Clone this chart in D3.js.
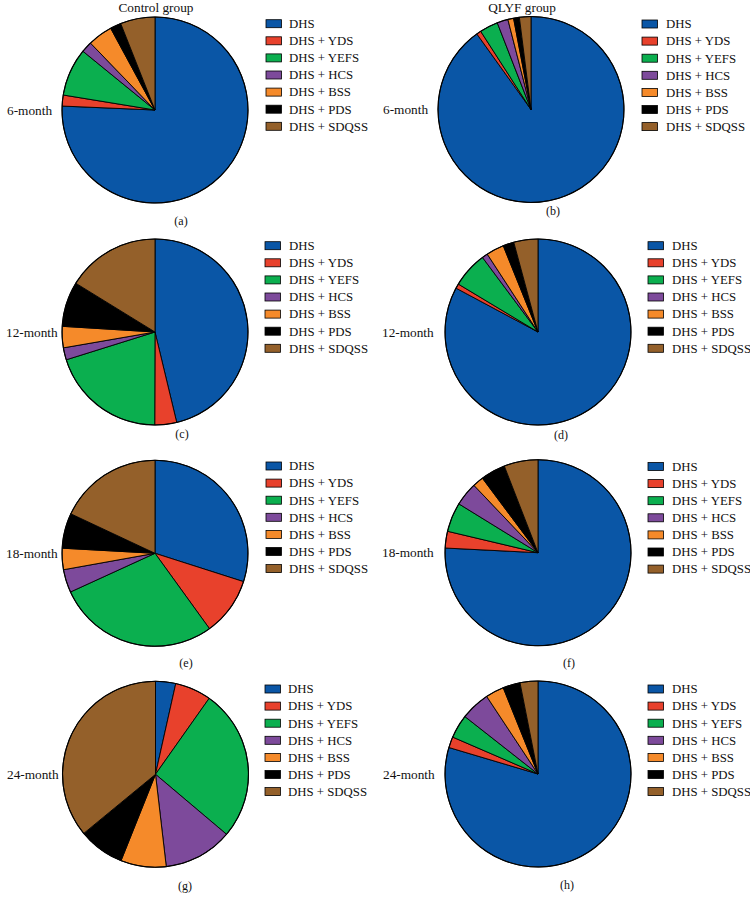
<!DOCTYPE html>
<html>
<head>
<meta charset="utf-8">
<script src="https://cdn.jsdelivr.net/npm/d3@7"></script>
<style>
  html, body { margin: 0; padding: 0; background: #fff; }
  svg { display: block; }
  text { font-family: "Liberation Serif", "Times New Roman", serif; fill: #111; }
</style>
</head>
<body>
<svg id="chart" width="750" height="904"></svg>
<script>
// ---- Data ----
const categories = ["DHS", "DHS + YDS", "DHS + YEFS", "DHS + HCS", "DHS + BSS", "DHS + PDS", "DHS + SDQSS"];
const groups = ["Control group", "QLYF group"];
const months = ["6-month", "12-month", "18-month", "24-month"];
const panelLetters = ["(a)", "(b)", "(c)", "(d)", "(e)", "(f)", "(g)", "(h)"];

// percentage share of each category (order as in categories)
const control6  = [75.6, 1.9, 8.3, 1.9, 4.3, 1.9, 6.0];
const qlyf6     = [90.1, 0.8, 3.2, 1.9, 1.0, 1.0, 2.0];
const control12 = [46.2, 3.8, 20.1, 2.1, 3.7, 7.8, 16.2];
const qlyf12    = [82.9, 0.8, 6.2, 1.0, 3.1, 1.9, 4.2];
const control18 = [29.9, 10.1, 28.1, 4.0, 3.7, 6.1, 18.0];
const qlyf18    = [75.8, 2.9, 5.1, 4.1, 1.9, 4.3, 5.9];
const control24 = [3.5, 6.3, 26.4, 12.0, 7.9, 8.0, 36.0];
const qlyf24    = [79.6, 1.9, 4.1, 5.1, 3.2, 3.0, 3.1];

const panelData = [control6, qlyf6, control12, qlyf12, control18, qlyf18, control24, qlyf24];

// ---- Styles / layout ----
const colors = ["#0a56a6", "#e8412c", "#0baf4f", "#7d4a9b", "#f58a2a", "#000000", "#94602a"];
const color = d3.scaleOrdinal().domain(categories).range(colors);

const layout = [
  {cx: 155,   cy: 110,   sw: 266, tx: 289, ly: 23.7,  lx: 7,   capx: 181, capy: 221},
  {cx: 531,   cy: 109.5, sw: 642, tx: 666, ly: 24,    lx: 383, capx: 553, capy: 211},
  {cx: 155,   cy: 332,   sw: 265, tx: 289, ly: 245.7, lx: 6,   capx: 182, capy: 434},
  {cx: 538,   cy: 332,   sw: 648, tx: 672, ly: 245.7, lx: 382, capx: 561, capy: 435},
  {cx: 155,   cy: 553.3, sw: 266, tx: 289, ly: 466,   lx: 6,   capx: 186, capy: 663},
  {cx: 538,   cy: 552.7, sw: 648, tx: 672, ly: 466.5, lx: 382, capx: 569, capy: 663},
  {cx: 155.5, cy: 774.3, sw: 265, tx: 288, ly: 689,   lx: 7,   capx: 185, capy: 886},
  {cx: 538,   cy: 774,   sw: 648, tx: 672, ly: 689,   lx: 383, capx: 567, capy: 885}
];
const R = 93;
const rowStep = 17.1;

const svg = d3.select("#chart");

// Column titles
svg.append("text").attr("x", 156).attr("y", 11.5).attr("text-anchor", "middle")
  .attr("font-size", 13.3).text(groups[0]);
svg.append("text").attr("x", 522).attr("y", 11.5).attr("text-anchor", "middle")
  .attr("font-size", 13.3).text(groups[1]);

const pie = d3.pie().sort(null).value(d => d.v);
const arc = d3.arc().innerRadius(0).outerRadius(R);

panelData.forEach((vals, i) => {
  const L = layout[i];
  const g = svg.append("g");
  const pg = g.append("g").attr("transform", `translate(${L.cx},${L.cy})`);
  const arcs = pie(vals.map((v, k) => ({v, c: categories[k]})));
  pg.selectAll("path").data(arcs).join("path")
    .attr("d", arc)
    .attr("fill", d => color(d.data.c))
    .attr("stroke", "#000")
    .attr("stroke-width", 0.9)
    .attr("stroke-linejoin", "round");
  pg.append("circle").attr("r", R).attr("fill", "none").attr("stroke", "#000").attr("stroke-width", 1.1);

  // row label
  g.append("text").attr("x", L.lx).attr("y", L.cy + 4.5)
    .attr("font-size", 13.3).text(months[Math.floor(i / 2)]);

  // legend
  const lg = g.append("g");
  categories.forEach((c, k) => {
    const y = L.ly + k * rowStep;
    lg.append("rect").attr("x", L.sw).attr("y", y - 4).attr("width", 15.5).attr("height", 8)
      .attr("fill", color(c)).attr("stroke", "#000").attr("stroke-width", 0.8);
    lg.append("text").attr("x", L.tx).attr("y", y + 4.3).attr("font-size", 12.8).text(c);
  });

  // caption
  g.append("text").attr("x", L.capx).attr("y", L.capy + 4).attr("text-anchor", "middle")
    .attr("font-size", 12).text(panelLetters[i]);
});
</script>
</body>
</html>
